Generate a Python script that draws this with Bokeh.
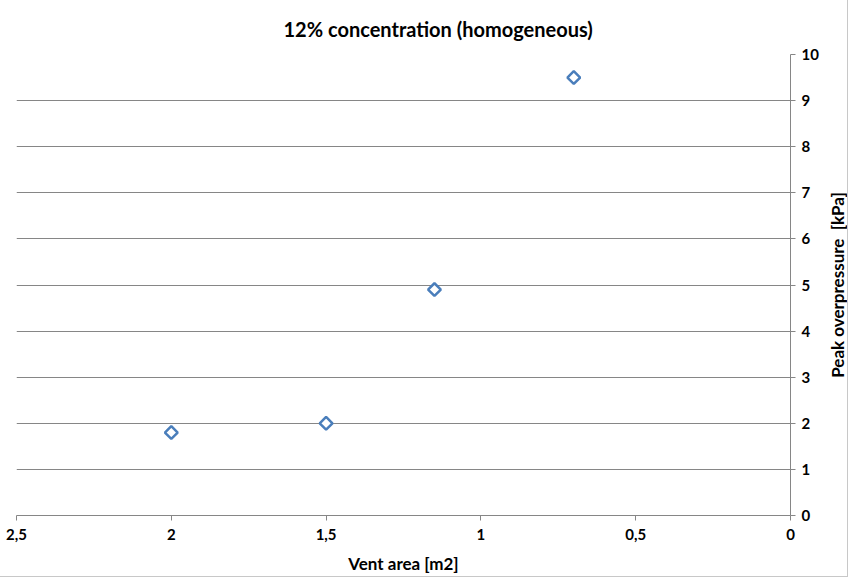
import numpy as np
from bokeh.plotting import figure
from bokeh.models import Range1d, FixedTicker, Label
from bokeh.embed import file_html
from bokeh.resources import INLINE

vent_area = [2.0, 1.5, 1.15, 0.7]
peak_overpressure = [1.8, 2.0, 4.9, 9.5]
x_ticks = [0, 0.5, 1, 1.5, 2, 2.5]
x_tick_labels = ["0", "0,5", "1", "1,5", "2", "2,5"]
y_ticks = [0, 1, 2, 3, 4, 5, 6, 7, 8, 9, 10]

FONT = "Lato"
GRAY = "#868686"

p = figure(width=847, height=576, frame_width=774, frame_height=461,
           x_range=Range1d(2.5, 0), y_range=Range1d(0, 10),
           y_axis_location="right", output_backend="svg", toolbar_location=None,
           min_border_left=16, min_border_right=57, min_border_top=54, min_border_bottom=61,
           title="12% concentration (homogeneous)")

p.title.text_font = FONT
p.title.text_font_size = "20px"
p.title.text_font_style = "bold"
p.title.text_color = "#000000"
p.title.align = "left"
p.title.offset = 267
p.title.standoff = 28

p.outline_line_color = None
p.styles = {"outline": "1px solid #c8c8c8"}

p.xgrid.grid_line_color = None
p.ygrid.grid_line_color = GRAY
p.ygrid.grid_line_width = 1
p.ygrid.ticker = FixedTicker(ticks=y_ticks)

xa = p.xaxis[0]
xa.ticker = FixedTicker(ticks=x_ticks)
xa.major_label_overrides = {t: l for t, l in zip(x_ticks, x_tick_labels)}
xa.axis_label = "Vent area [m2]"
ya = p.yaxis[0]
ya.ticker = FixedTicker(ticks=y_ticks)

for ax in (xa, ya):
    ax.axis_line_color = GRAY
    ax.major_tick_line_color = GRAY
    ax.major_tick_out = 5
    ax.major_tick_in = 0
    ax.minor_tick_line_color = None
    ax.major_label_text_font = FONT
    ax.major_label_text_font_style = "bold"
    ax.major_label_text_font_size = "15px"
    ax.major_label_text_color = "#000000"
    ax.axis_label_text_font = FONT
    ax.axis_label_text_font_style = "bold"
    ax.axis_label_text_font_size = "17px"
    ax.axis_label_text_color = "#000000"

xa.major_label_standoff = 8
xa.axis_label_standoff = 10
ya.major_label_standoff = 6

# y-axis title (reads bottom to top), placed in the right-hand panel
ylabel = Label(x=16, y=230.5, x_units="screen", y_units="screen",
               text="Peak overpressure\u00a0 [kPa]", angle=np.pi / 2,
               text_align="center", text_baseline="middle",
               text_font=FONT, text_font_style="bold", text_font_size="17px",
               text_color="#000000")
p.add_layout(ylabel, "right")

p.scatter(vent_area, peak_overpressure, marker="square", angle=np.pi / 4, size=9,
          line_color="#4a7ebb", line_width=2.5, fill_color="white")

open("out.html", "w").write(file_html(p, INLINE))
